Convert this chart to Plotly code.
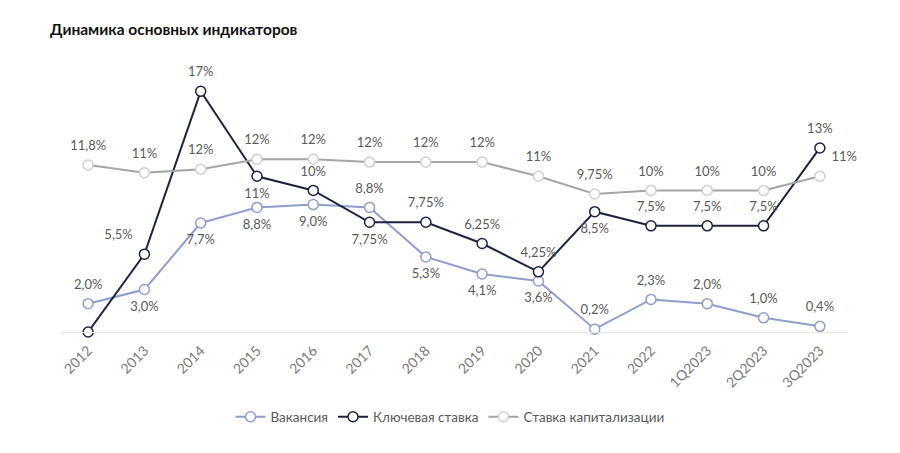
import plotly.graph_objects as go

categories = ["2012", "2013", "2014", "2015", "2016", "2017", "2018", "2019",
              "2020", "2021", "2022", "1Q2023", "2Q2023", "3Q2023"]

vacancy = [2.0, 3.0, 7.7, 8.8, 9.0, 8.8, 5.3, 4.1, 3.6, 0.2, 2.3, 2.0, 1.0, 0.4]
vacancy_labels = ["2,0%", "3,0%", "7,7%", "8,8%", "9,0%", "8,8%", "5,3%", "4,1%",
                  "3,6%", "0,2%", "2,3%", "2,0%", "1,0%", "0,4%"]
vacancy_pos = ["top center", "bottom center", "bottom center", "bottom center",
               "bottom center", "top center", "bottom center", "bottom center",
               "bottom center", "top center", "top center", "top center",
               "top center", "top center"]

key_rate = [0, 5.5, 17, 11, 10, 7.75, 7.75, 6.25, 4.25, 8.5, 7.5, 7.5, 7.5, 13]
key_rate_labels = ["", "5,5%", "17%", "11%", "10%", "7,75%", "7,75%", "6,25%",
                   "4,25%", "8,5%", "7,5%", "7,5%", "7,5%", "13%"]
key_rate_pos = ["top center", "top left", "top center", "bottom center",
                "top center", "bottom center", "top center", "top center",
                "top center", "bottom center", "top center", "top center",
                "top center", "top center"]

cap_rate = [11.8, 11.25, 11.5, 12.2, 12.2, 12.0, 12.0, 12.0, 11.0, 9.75, 10.0,
            10.0, 10.0, 11.0]
cap_rate_labels = ["11,8%", "11%", "12%", "12%", "12%", "12%", "12%", "12%",
                   "11%", "9,75%", "10%", "10%", "10%", "11%"]
cap_rate_pos = ["top center"] * 13 + ["top right"]

FONT = "Lato, 'Noto Sans', sans-serif"
LABEL_COLOR = "#595959"

fig = go.Figure()


def add_series(name, values, line_color, marker_line):
    fig.add_trace(go.Scatter(
        x=categories, y=values, name=name,
        mode="lines+markers",
        line=dict(color=line_color, width=2),
        marker=dict(size=10, color="white",
                    line=dict(color=marker_line, width=1.5)),
        cliponaxis=False,
        hoverinfo="skip",
    ))


def add_labels(values, labels, positions):
    # invisible larger markers so labels sit a little further from the points
    fig.add_trace(go.Scatter(
        x=categories, y=values, mode="markers+text",
        text=labels, textposition=positions,
        textfont=dict(family=FONT, size=13, color=LABEL_COLOR),
        marker=dict(size=17, opacity=0),
        showlegend=False, cliponaxis=False, hoverinfo="skip",
    ))


add_series("Вакансия", vacancy, "#8E9DCB", "#8E9DCB")
add_series("Ключевая ставка", key_rate, "#1B2340", "#1B2340")
add_series("Ставка капитализации", cap_rate, "#A5A5A5", "#CFCFCF")
add_labels(vacancy, vacancy_labels, vacancy_pos)
add_labels(key_rate, key_rate_labels, key_rate_pos)
add_labels(cap_rate, cap_rate_labels, cap_rate_pos)

fig.update_layout(
    width=900, height=453,
    margin=dict(l=60, r=52, t=63, b=121),
    paper_bgcolor="white", plot_bgcolor="white",
    font=dict(family=FONT, color=LABEL_COLOR),
    title=dict(text="<b>Динамика основных индикаторов</b>",
               x=50 / 900, xref="container", xanchor="left",
               y=1 - 30 / 453, yref="container", yanchor="middle",
               font=dict(family=FONT, size=15.5, color="#111111")),
    showlegend=True,
    legend=dict(orientation="h", x=0.5, xanchor="center", xref="container",
                y=1 - 417 / 453, yref="container", yanchor="middle",
                font=dict(family=FONT, size=13.5, color=LABEL_COLOR),
                itemwidth=30, tracegroupgap=0),
)

fig.update_xaxes(
    type="category", range=[-0.5, 13.5],
    showgrid=False, zeroline=False, automargin=False,
    showline=True, linecolor="#E6E6E6", linewidth=1,
    ticks="", tickangle=-45, ticklabelstandoff=4,
    tickfont=dict(family=FONT, size=14, color="#7A7A7A"),
)
fig.update_yaxes(
    range=[0, 19], visible=False, showgrid=False, zeroline=False,
)

fig.write_html("out.html", config={"displayModeBar": False},
               post_script="document.body.style.margin='0';")
